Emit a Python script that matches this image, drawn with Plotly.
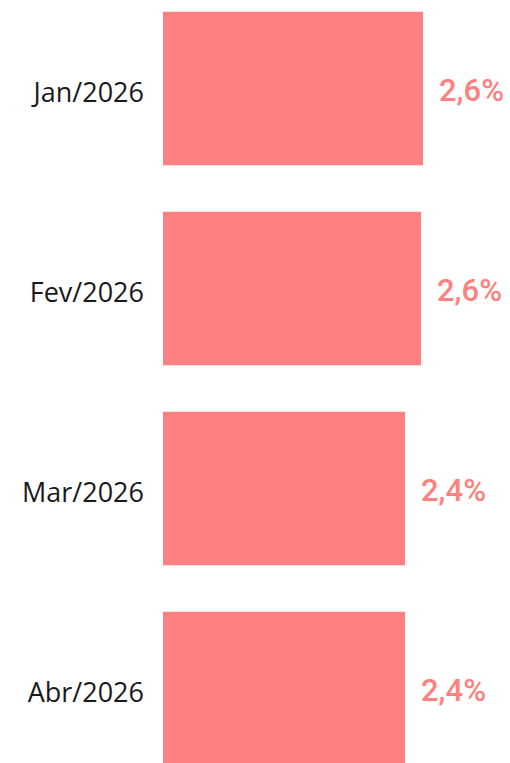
import plotly.graph_objects as go

# Monthly rates (%)
months = ["Jan/2026", "Fev/2026", "Mar/2026", "Abr/2026"]
rates = [2.60, 2.58, 2.42, 2.42]

bar_color = "#FF8080"

fig = go.Figure(
    go.Bar(
        x=rates,
        y=months,
        orientation="h",
        marker=dict(color=bar_color, line=dict(width=0)),
        width=0.767,
        hoverinfo="skip",
    )
)

# Value labels to the right of each bar
for m, r in zip(months, rates):
    fig.add_annotation(
        x=r, y=m,
        text=f"{r:.1f}%".replace(".", ","),
        showarrow=False,
        xanchor="left",
        yanchor="middle",
        xshift=14,
        yshift=-2,
        font=dict(family="Roboto", size=31, weight=500, color=bar_color),
    )

fig.update_layout(
    width=510,
    height=763,
    margin=dict(l=163, r=0, t=0, b=0),
    paper_bgcolor="white",
    plot_bgcolor="white",
    showlegend=False,
    xaxis=dict(range=[0, 3.47], visible=False, fixedrange=True),
    yaxis=dict(
        range=[3.3725, -0.4425],
        showgrid=False,
        zeroline=False,
        showline=False,
        ticks="",
        ticklabelstandoff=18,
        ticklabelshift=-4,
        tickfont=dict(family="Open Sans", size=27, color="#1a1a1a"),
        fixedrange=True,
    ),
)

fig.write_html("out.html", config=dict(displayModeBar=False))
